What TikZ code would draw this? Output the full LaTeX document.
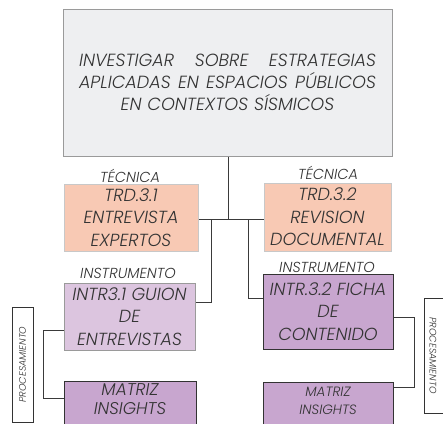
\documentclass[tikz,border=0pt]{standalone}
\usepackage{fontspec}
\setmainfont{Poppins}[UprightFont=* Light, ItalicFont=* Light Italic]
\definecolor{txt}{HTML}{333333}
\definecolor{topfill}{HTML}{EEEFF1}
\definecolor{topdraw}{HTML}{9A9A9A}
\definecolor{peach}{HTML}{F8C9B4}
\definecolor{peachdraw}{HTML}{C8C8C8}
\definecolor{lav}{HTML}{DCC5DF}
\definecolor{lavdraw}{HTML}{9A9A9A}
\definecolor{purp}{HTML}{C8A6CF}
\definecolor{line}{HTML}{3A3A3A}
\begin{document}
\begin{tikzpicture}[x=1pt,y=-1pt,
  box/.style={rectangle,inner sep=0pt,align=center,text=txt,font=\itshape,line width=1pt},
  lbl/.style={inner sep=0pt,text=txt,font=\itshape\fontsize{14.5}{16}\selectfont},
  txtn/.style={inner sep=0pt,align=center,text=txt},
  proclbl/.style={inner sep=0pt,text=txt,font=\itshape\fontsize{9.5}{10}\selectfont},
  conn/.style={draw=line,line width=1pt}]
\useasboundingbox (0,0) rectangle (443,423);
\clip (0,0) rectangle (443,423);
% top box
\node[box,draw=topdraw,fill=topfill,minimum width=329pt,minimum height=147pt,
  font=\itshape\fontsize{17.6}{22}\selectfont,text width=297pt] (top) at (227.5,82.5)
  {\makebox[297pt][s]{INVESTIGAR\hfill SOBRE\hfill ESTRATEGIAS}\\\makebox[297pt][s]{APLICADAS\hfill EN\hfill ESPACIOS\hfill PÚBLICOS}\\EN CONTEXTOS SÍSMICOS};
% technique boxes
\node[box,draw=peachdraw,fill=peach,minimum width=134pt,minimum height=67pt,
  font=\itshape\fontsize{17.5}{22.5}\selectfont] (trd1) at (131,217.5) {TRD.3.1\\ENTREVISTA\\EXPERTOS};
\node[box,draw=peachdraw,fill=peach,minimum width=127pt,minimum height=68pt,
  font=\itshape\fontsize{17.5}{22.5}\selectfont] (trd2) at (327.5,217) {TRD.3.2\\REVISION\\DOCUMENTAL};
\node[lbl] (t1) at (130,176) {TÉCNICA};
\node[lbl] (t2) at (328,173) {TÉCNICA};
% instrument boxes
\node[box,draw=lavdraw,fill=lav,minimum width=131pt,minimum height=67pt,
  font=\itshape\fontsize{17.5}{22.5}\selectfont] (in1) at (129.5,316.5) {INTR3.1 GUION\\DE\\ENTREVISTAS};
\node[box,draw=txt,fill=purp,minimum width=130pt,minimum height=75pt,
  font=\itshape\fontsize{17.5}{22.5}\selectfont] (in2) at (328,311.5) {INTR.3.2 FICHA\\DE\\CONTENIDO};
\node[lbl] (i1) at (128,273) {INSTRUMENTO};
\node[lbl] (i2) at (327,267) {INSTRUMENTO};
% matrix boxes
\node[box,draw=txt,fill=purp,minimum width=132pt,minimum height=60pt] (m1) at (130,411) {};
\node[txtn,font=\itshape\fontsize{17}{19.5}\selectfont] (m1t) at (130,399) {MATRIZ\\INSIGHTS};
\node[box,draw=txt,fill=purp,minimum width=130pt,minimum height=60pt] (m2) at (328,412) {};
\node[txtn,font=\itshape\fontsize{13.5}{18}\selectfont] (m2t) at (328,401) {MATRIZ\\INSIGHTS};
% processing labels
\node[box,draw=txt,fill=white,line width=0.8pt,minimum width=21pt,minimum height=115pt] (p1) at (22.5,364.5) {};
\node[proclbl,rotate=90] (p1t) at (p1.center) {PROCESAMIENTO};
\node[box,draw=txt,fill=white,line width=0.8pt,minimum width=21pt,minimum height=115pt] (p2) at (434.5,355.5) {};
\node[proclbl,rotate=-90] (p2t) at (433,355.5) {PROCESAMIENTO};
% connectors
\coordinate (hub) at (228,219);
\coordinate (j1) at (211,219);
\coordinate (j2) at (248,219);
\coordinate (c1) at (211,302);
\coordinate (c2) at (248,298);
\coordinate (q1) at (43,330);
\coordinate (q2) at (43,398);
\coordinate (r1) at (414,317);
\coordinate (r2) at (414,387);
\draw[conn] (top.south -| hub) -- (hub);
\draw[conn] (trd1.east |- hub) -- (trd2.west |- hub);
\draw[conn] (j1) -- (c1) -- (c1 -| in1.east);
\draw[conn] (j2) -- (c2) -- (c2 -| in2.west);
\draw[conn] (q1 -| in1.west) -- (q1) -- (q2) -- (q2 -| m1.west);
\draw[conn] (r1 -| in2.east) -- (r1) -- (r2) -- (r2 -| m2.east);
\end{tikzpicture}
\end{document}
